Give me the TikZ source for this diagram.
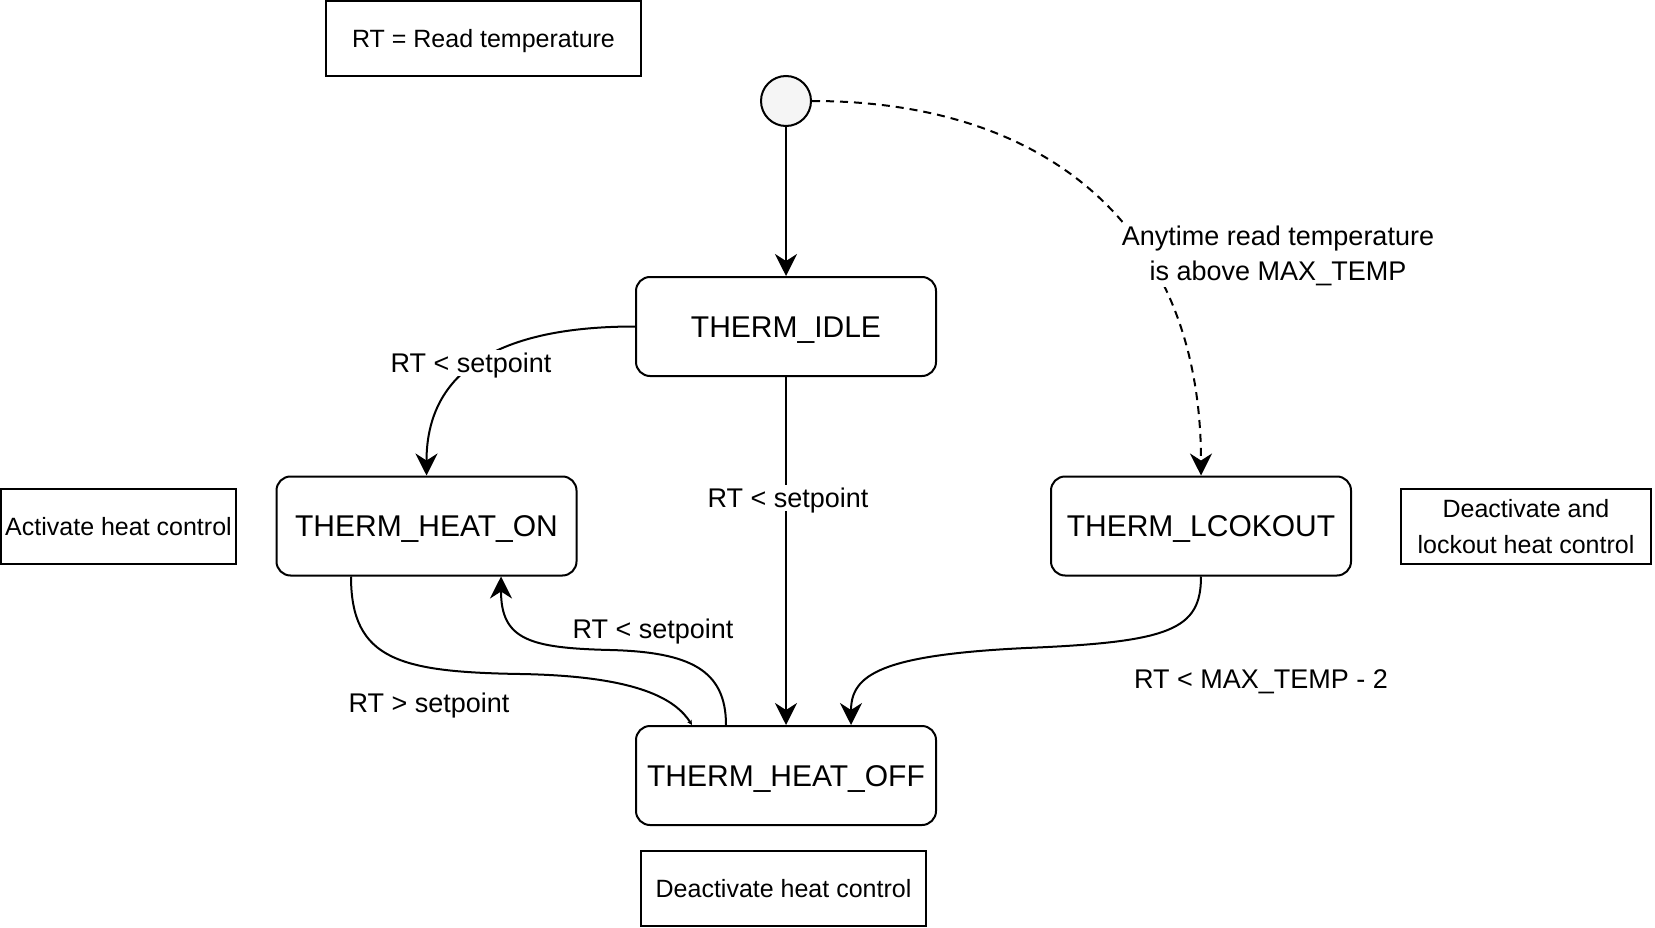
\documentclass[tikz,border=0pt]{standalone}
\usepackage{fontspec}
\setmainfont{Liberation Sans}
\usetikzlibrary{arrows.meta}
\definecolor{initfill}{HTML}{F5F5F5}
\tikzset{
  statebox/.style={draw, line width=2pt, rounded corners=14pt, minimum width=300pt, minimum height=99pt, inner sep=0pt, text height=24pt, text depth=2.5pt, font=\fontsize{30}{36}\selectfont},
  noteframe/.style={draw, line width=2pt, minimum height=75pt, inner sep=0pt, align=center, font=\fontsize{25}{36}\selectfont},
  notebox/.style={noteframe, text height=20pt, text depth=2.1pt},
  lbltext/.style={fill=white, inner sep=1pt, align=center, font=\fontsize{27}{35}\selectfont},
  lbl/.style={lbltext, text height=21.5pt, text depth=2.2pt},
  conn/.style={line width=2pt, -{Stealth[length=22pt,width=22pt,inset=7pt]}},
}
\begin{document}
\begin{tikzpicture}[x=1pt,y=-1pt]
\useasboundingbox (0,0) rectangle (1655,928);
% notes
\node[notebox, minimum width=315pt] (rtnote) at (483.5,38.5) {RT = Read temperature};
\node[notebox, minimum width=235pt] (actnote) at (118.5,526.5) {Activate heat control};
\node[noteframe, minimum width=250pt] (locknote) at (1526,526.5) {Deactivate and\\lockout heat control};
\node[notebox, minimum width=285pt] (offnote) at (783.5,888.5) {Deactivate heat control};
% states
\node[draw, circle, line width=2pt, fill=initfill, minimum size=50pt, inner sep=0pt] (init) at (786,101) {};
\node[statebox] (idle) at (786,326.5) {THERM\_IDLE};
\node[statebox] (heaton) at (426.5,526) {THERM\_HEAT\_ON};
\node[statebox] (lock) at (1201,526) {THERM\_LCOKOUT};
\node[statebox] (heatoff) at (786,775.5) {THERM\_HEAT\_OFF};
% anchors on borders
\coordinate (heatonB1) at ([xshift=-75.5pt]heaton.south);
\coordinate (heatonB2) at ([xshift=74.5pt]heaton.south);
\coordinate (heatoffT1) at ([xshift=-94pt]heatoff.north);
\coordinate (heatoffT2) at ([xshift=-60pt]heatoff.north);
\coordinate (heatoffT3) at ([xshift=65pt]heatoff.north);
% connectors
\draw[conn] (init.south) -- (idle.north);
\draw[line width=2pt, dash pattern=on 8pt off 6pt, -{Stealth[length=22pt,width=22pt,inset=7pt]}]
  (init.east) .. controls (1050,101) and (1201,230) .. (lock.north);
\node[lbltext] (lblany) at (1278,256) {Anytime read temperature\\is above MAX\_TEMP};
\draw[conn] (idle.west) .. controls (500,326.5) and (426.5,370) .. (heaton.north);
\node[lbl] (lblidleon) at (471,363) {RT < setpoint};
\draw[conn] (idle.south) -- (heatoff.north);
\node[lbl] (lblidleoff) at (788,498) {RT < setpoint};
\draw[conn] (lock.south) .. controls (1201,630) and (1170,642) .. (1026,648)
  .. controls (880,655) and (851,675) .. (heatoffT3);
\node[lbl] (lbllock) at (1261,679) {RT < MAX\_TEMP - 2};
\draw[line width=2pt, -{Stealth[length=5pt,width=5pt]}] (heatonB1) .. controls (351,660) and (400,672) .. (520,674)
  .. controls (640,676) and (676,700) .. (heatoffT1);
\node[lbl, fill=none] (lblonoff) at (429,703) {RT > setpoint};
\draw[conn] (heatoffT2) .. controls (726,670) and (690,652) .. (610,650)
  .. controls (530,648) and (501,640) .. (heatonB2);
\node[lbl, fill=none] (lbloffon) at (653,629) {RT < setpoint};
\end{tikzpicture}
\end{document}
